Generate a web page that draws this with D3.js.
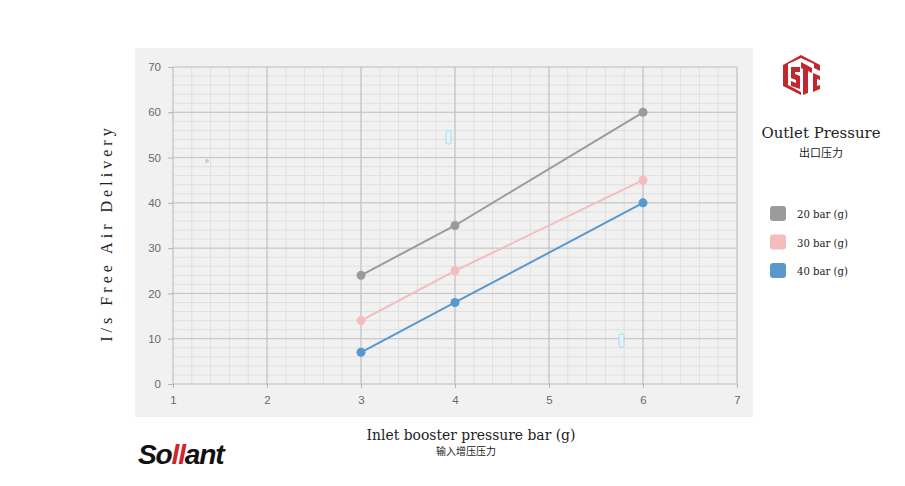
<!DOCTYPE html>
<html><head><meta charset="utf-8">
<script src="https://cdn.jsdelivr.net/npm/d3@7"></script>
<style>body{margin:0;background:#fff}svg{display:block}</style>
</head><body>
<svg id="c" width="905" height="486"></svg>
<script>
const xValues = [3, 4, 6];
const series20 = [24, 35, 60];
const series30 = [14, 25, 45];
const series40 = [7, 18, 40];
const seriesNames = ["20 bar (g)", "30 bar (g)", "40 bar (g)"];
const seriesColors = ["#9b9b9b", "#f5bcbc", "#5898cf"];
const xTicks = [1, 2, 3, 4, 5, 6, 7];
const yTicks = [0, 10, 20, 30, 40, 50, 60, 70];

const svg = d3.select("#c");
const x = d3.scaleLinear().domain([1, 7]).range([173, 737]);
const y = d3.scaleLinear().domain([0, 70]).range([384, 67]);

svg.append("rect").attr("x", 135).attr("y", 48).attr("width", 618).attr("height", 369).attr("fill", "#f1f1f1");

const g = svg.append("g");
const minorX = d3.range(1, 7.001, 0.2);
g.selectAll(".mx").data(minorX).join("line")
  .attr("x1", d => x(d)).attr("x2", d => x(d)).attr("y1", y(0)).attr("y2", y(70))
  .attr("stroke", "#e0e0e0").attr("stroke-width", 1);
const minorY = d3.range(0, 70.001, 2);
g.selectAll(".my").data(minorY).join("line")
  .attr("y1", d => y(d)).attr("y2", d => y(d)).attr("x1", x(1)).attr("x2", x(7))
  .attr("stroke", "#e0e0e0").attr("stroke-width", 1);
g.selectAll(".Mx").data(xTicks).join("line")
  .attr("x1", d => x(d)).attr("x2", d => x(d)).attr("y1", y(0)).attr("y2", y(70))
  .attr("stroke", "#bdbdbd").attr("stroke-width", 1);
g.selectAll(".My").data(yTicks).join("line")
  .attr("y1", d => y(d)).attr("y2", d => y(d)).attr("x1", x(1)).attr("x2", x(7))
  .attr("stroke", "#c4c4c4").attr("stroke-width", 1);

const fmt = d3.format("d");
const yAxis = d3.axisLeft(y).tickValues(yTicks).tickFormat(fmt).tickSize(5).tickPadding(7);
const ya = svg.append("g").attr("transform", `translate(${x(1)},0)`).call(yAxis);
const xAxis = d3.axisBottom(x).tickValues(xTicks).tickFormat(fmt).tickSize(4).tickPadding(8);
const xa = svg.append("g").attr("transform", `translate(0,${y(0)})`).call(xAxis);
[ya, xa].forEach(a => {
  a.select(".domain").remove();
  a.selectAll("line").attr("stroke", "#b4b4b4");
  a.selectAll("text").attr("fill", "#6a6a6a").style("font-family", "Liberation Sans, Arial, sans-serif").style("font-size", "11.5px");
});

svg.append("circle").attr("cx", 207).attr("cy", 161).attr("r", 2).attr("fill", "#ccc");
svg.append("rect").attr("x", 446).attr("y", 131).attr("width", 5).attr("height", 13).attr("rx", 1.5).attr("fill", "#e3f4fc").attr("stroke", "#9dd6f0").attr("stroke-width", 0.8);
svg.append("rect").attr("x", 619).attr("y", 334).attr("width", 5).attr("height", 13).attr("rx", 1.5).attr("fill", "#e3f4fc").attr("stroke", "#9dd6f0").attr("stroke-width", 0.8);

const allSeries = [series20, series30, series40];
const line = d3.line().x((d, i) => x(xValues[i])).y(d => y(d));
allSeries.forEach((s, k) => {
  svg.append("path").datum(s).attr("d", line).attr("fill", "none")
    .attr("stroke", seriesColors[k]).attr("stroke-width", 2);
  svg.selectAll(null).data(s).join("circle")
    .attr("cx", (d, i) => x(xValues[i])).attr("cy", d => y(d)).attr("r", 4.5)
    .attr("fill", seriesColors[k]);
});

const serif = "DejaVu Serif, Georgia, serif";
function fit(sel, w) {
  const n = sel.node();
  const fs = parseFloat(sel.style("font-size"));
  const len = n.getComputedTextLength();
  sel.style("font-size", (fs * w / len).toFixed(2) + "px");
  return sel;
}

fit(svg.append("text").attr("transform", "translate(112,233) rotate(-90)").attr("text-anchor", "middle")
  .style("font-family", "Liberation Serif, serif").style("font-size", "14px").style("letter-spacing", "4px")
  .attr("fill", "#222").text("I/s Free Air Delivery"), 230);
fit(svg.append("text").attr("x", 471).attr("y", 440).attr("text-anchor", "middle")
  .style("font-family", serif).style("font-size", "13px").attr("fill", "#222")
  .text("Inlet booster pressure bar (g)"), 209);
svg.append("text").attr("x", 466).attr("y", 455).attr("text-anchor", "middle")
  .style("font-family", "Noto Sans CJK SC").style("font-size", "10px").attr("fill", "#222")
  .text("输入增压压力");

fit(svg.append("text").attr("x", 821).attr("y", 138).attr("text-anchor", "middle")
  .style("font-family", serif).style("font-size", "14px").attr("fill", "#222").text("Outlet Pressure"), 119);
svg.append("text").attr("x", 821).attr("y", 157).attr("text-anchor", "middle")
  .style("font-family", "Noto Sans CJK SC").style("font-size", "11px").attr("fill", "#222").text("出口压力");
const leg = svg.selectAll(".leg").data(seriesNames).join("g")
  .attr("transform", (d, i) => `translate(770,${206 + i * 28.5})`);
leg.append("rect").attr("width", 16).attr("height", 15).attr("rx", 3).attr("fill", (d, i) => seriesColors[i]);
leg.append("text").attr("x", 27).attr("y", 12).style("font-family", serif).style("font-size", "11px")
  .attr("fill", "#222").text(d => d).each(function () { fit(d3.select(this), 51); });

const logo = svg.append("g").attr("transform", "translate(783,55)").attr("fill", "#c0282d");
logo.append("path").attr("d", "M18,0 L37,10 L37,16 L31,13 L31,9 L18,3 L5,9 L5,30 L18,37 L18,40 L0,31 L0,10 Z");
logo.append("path").attr("d", "M8,12 L17,12 L17,17 L12,17 L12,19 L17,21 L17,34 L8,31 L8,26 L13,28 L13,25 L8,23 Z");
logo.append("path").attr("d", "M18,7 L29,13 L29,18 L25,16 L25,38 L20,40 L20,14 L18,13 Z");
logo.append("path").attr("d", "M30,18 L37,21 L37,25 L34,24 L34,31 L37,30 L37,34 L30,37 Z");

const sol = svg.append("text").attr("x", 138).attr("y", 464)
  .style("font-family", "Liberation Sans, Arial, sans-serif").style("font-size", "24px")
  .style("font-weight", "bold").style("font-style", "italic").style("letter-spacing", "-1.2px")
  .attr("fill", "#111");
sol.append("tspan").text("So");
sol.append("tspan").attr("fill", "#d0262b").text("ll");
sol.append("tspan").text("ant");
fit(sol, 84);
</script>
</body></html>
